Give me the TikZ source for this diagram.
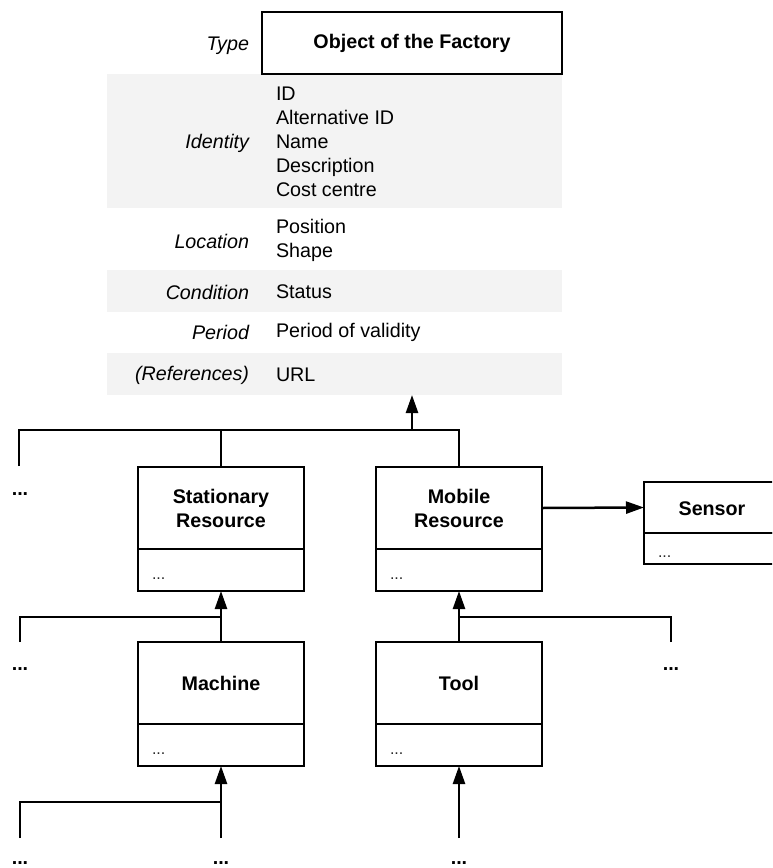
\documentclass[tikz,border=0pt]{standalone}
\usepackage{fontspec}
\setmainfont{Liberation Sans}
\usetikzlibrary{arrows.meta}
\definecolor{bandgray}{HTML}{F3F3F3}
\begin{document}
\begin{tikzpicture}[x=1pt,y=-1pt,
  every node/.style={inner sep=0pt, outer sep=0pt},
  band/.style={fill=bandgray, draw=none, minimum width=455pt, anchor=north west},
  lbl/.style={font=\fontsize{19.7}{24}\selectfont\itshape, anchor=east},
  val/.style={font=\fontsize{19.7}{24}\selectfont, anchor=west, align=left},
  classname/.style={draw, line width=1.8pt, minimum width=166pt, minimum height=82pt,
    font=\fontsize{19.7}{24}\selectfont\bfseries, align=center},
  classattr/.style={draw, line width=1.8pt, minimum width=166pt, minimum height=42pt, anchor=north},
  smalldots/.style={font=\fontsize{16}{18}\selectfont, text=black!85, anchor=base west},
  bigdots/.style={font=\fontsize{19.7}{24}\selectfont\bfseries, anchor=base},
  conn/.style={line width=2.5pt},
  arr/.style={conn, -{Triangle[length=18pt,width=12pt]}}
]
\useasboundingbox (0,0) rectangle (772,868);
\clip (0,0) rectangle (772,868);

% attribute bands of the top-level type
\node[band, minimum height=134pt] (identity) at (107,74) {};
\node[band, minimum height=42pt] (condition) at (107,270) {};
\node[band, minimum height=42pt] (refs) at (107,353) {};

\node[draw, line width=1.6pt, minimum width=300pt, minimum height=62pt,
  font=\fontsize{19.7}{24}\selectfont\bfseries] (type) at (412,43) {Object of the Factory};

\node[lbl] (ltype) at (249,46) {Type};
\node[lbl] (lident) at (249,143) {Identity};
\node[lbl] (lloc) at (249,241) {Location};
\node[lbl] (lcond) at (249,292) {Condition};
\node[lbl] (lper) at (249,332) {Period};
\node[lbl] (lref) at (249,375) {(References)};

\node[val] (vident) at (276,142) {ID\\Alternative ID\\Name\\Description\\Cost centre};
\node[val] (vloc) at (276,240) {Position\\Shape};
\node[val] (vcond) at (276,292) {Status};
\node[val] (vper) at (276,332) {Period of validity};
\node[val] (vref) at (276,375) {URL};

% class boxes
\node[classname] (stat) at (221,508) {Stationary\\Resource};
\node[classattr] (statattr) at (stat.south) {};
\node[classname] (mob) at (459,508) {Mobile\\Resource};
\node[classattr] (mobattr) at (mob.south) {};
\node[classname] (mach) at (221,683) {Machine};
\node[classattr] (machattr) at (mach.south) {};
\node[classname] (tool) at (459,683) {Tool};
\node[classattr] (toolattr) at (tool.south) {};
\node[classname, minimum width=140pt, minimum height=51pt] (sensor) at (714,507.5) {};
\node[font=\fontsize{19.7}{24}\selectfont\bfseries] (sensorname) at (712,509) {Sensor};
\node[classattr, minimum width=140pt, minimum height=31pt] (sensorattr) at (sensor.south) {};

\node[smalldots] (statdots) at (152,579) {...};
\node[smalldots] (mobdots) at (390,579) {...};
\node[smalldots] (machdots) at (152,754) {...};
\node[smalldots] (tooldots) at (390,754) {...};
\node[smalldots] (sensordots) at (658,557) {...};

% inheritance tree below the type
\coordinate (t0) at (19,430);
\coordinate (t1) at (221,430);
\coordinate (t2) at (412,430);
\coordinate (t3) at (459,430);
\coordinate (l0) at (19,466);
\draw[conn] (l0) -- (t0) -- (t3) -- (mob.north);
\draw[conn] (t1) -- (stat.north);
\draw[arr] (t2) -- (t2 |- refs.south);
\node[bigdots] (d1) at (20,495) {...};

\draw[arr] (mob.east) -- (sensor.west);

% second level
\coordinate (m0) at (20,642);
\coordinate (m1) at (20,617);
\coordinate (m2) at (221,617);
\coordinate (m3) at (671,642);
\coordinate (m4) at (671,617);
\coordinate (m5) at (459,617);
\draw[arr] (mach.north) -- (statattr.south);
\draw[arr] (tool.north) -- (mobattr.south);
\draw[conn] (m0) -- (m1) -- (m2);
\draw[conn] (m3) -- (m4) -- (m5);
\node[bigdots] (d2) at (20,670) {...};
\node[bigdots] (d3) at (671,670) {...};

% third level
\coordinate (b0) at (20,838);
\coordinate (b1) at (20,802);
\coordinate (b2) at (221,802);
\coordinate (b3) at (221,838);
\coordinate (b4) at (459,838);
\draw[arr] (b3) -- (machattr.south);
\draw[conn] (b0) -- (b1) -- (b2);
\draw[arr] (b4) -- (toolattr.south);
\node[bigdots] (d4) at (20,864) {...};
\node[bigdots] (d5) at (221,864) {...};
\node[bigdots] (d6) at (459,864) {...};
\end{tikzpicture}
\end{document}
